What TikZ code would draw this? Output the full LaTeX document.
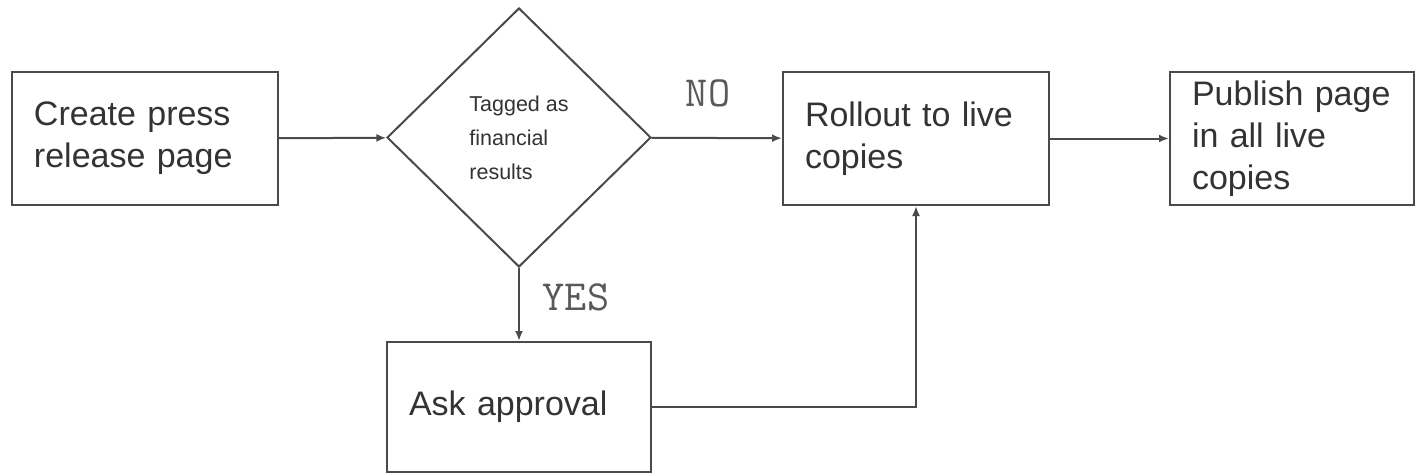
\documentclass[tikz,border=0pt]{standalone}
\usepackage{fontspec}
\setmainfont{Liberation Sans}
\usetikzlibrary{shapes.geometric,arrows.meta}
\definecolor{linegray}{HTML}{4A4A4A}
\definecolor{textgray}{HTML}{333333}
\begin{document}
\begin{tikzpicture}[x=1pt,y=-1pt,
        box/.style={draw=linegray, line width=2pt, rectangle, minimum height=133pt,
            inner xsep=22pt, align=left, text=textgray,
            font=\fontsize{34}{42}\selectfont},
        decision/.style={draw=linegray, line width=2pt, diamond, inner sep=0pt,
            minimum width=264pt, minimum height=259pt, align=left, text=textgray,
            font=\fontsize{21.5}{34}\selectfont},
        lbl/.style={text=black!65, font=\ttfamily\fontsize{43}{45}\selectfont},
        flow/.style={draw=linegray, line width=2pt, -{Latex[length=10pt,width=8pt]}}]
    \useasboundingbox (0,0) rectangle (1419,474);
    \node[box, text width=222pt] (create) at (145,138.5) {Create press\\release page};
    \node[decision] (tagged) at (519,137.5) {Tagged as\\financial\\results};
    \node[box, text width=222pt] (rollout) at (916,138.5) {Rollout to live\\copies};
    \node[box, text width=200pt] (publish) at (1292,138.5) {Publish page\\in all live\\copies};
    \node[box, text width=220pt, minimum height=130pt] (ask) at (519,407) {Ask approval};
    \node[lbl] (no) at (708,93) {NO};
    \node[lbl] (yes) at (576,297) {YES};
    \draw[flow] (create) -- (tagged);
    \draw[flow] (tagged) -- (rollout);
    \draw[flow] (rollout) -- (publish);
    \draw[flow] (tagged) -- (ask);
    \draw[flow] (ask.east) -| (rollout.south);
\end{tikzpicture}
\end{document}
